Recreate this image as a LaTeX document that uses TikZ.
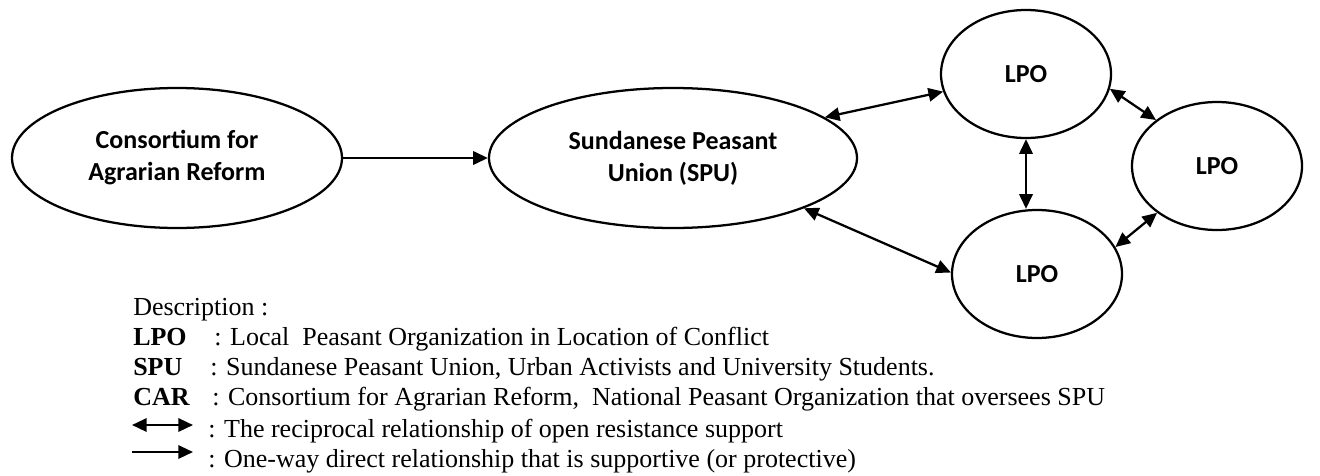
\documentclass[tikz,border=0pt]{standalone}
\usepackage{fontspec}
\setmainfont{Liberation Serif}
\newfontfamily\calibri{Carlito}
\usetikzlibrary{shapes,arrows.meta,positioning,calc}

\begin{document}
\begin{tikzpicture}[
    x=0.75pt, y=-0.75pt,
    org/.style={ellipse, draw=black, line width=1.7pt, inner sep=0pt, align=center, font=\calibri\bfseries\fontsize{19.5}{24}\selectfont},
    bigorg/.style={org, minimum width=250pt, minimum height=105pt},
    lpo/.style={org, minimum width=127.5pt, minimum height=96pt},
    link/.style={line width=1.7pt, {Triangle[length=11pt,width=10pt]}-{Triangle[length=11pt,width=10pt]}},
    oneway/.style={line width=1.7pt, -{Triangle[length=11pt,width=10pt]}},
    legend/.style={anchor=base west, inner sep=0pt, font=\fontsize{19.5}{22}\selectfont}
]
\useasboundingbox (0,0) rectangle (1320,475);

% Organizations
\node (car) [bigorg, minimum width=247.5pt] at (177,158) {Consortium for\\Agrarian Reform};
\node (spu) [bigorg, minimum width=276pt] at (673,158) {Sundanese Peasant\\Union (SPU)};
\node (lpotop) [lpo] at (1026,74) {LPO};
\node (lporight) [lpo] at (1217,166) {LPO};
\node (lpobot) [lpo] at (1037,274) {LPO};

% Connections
\draw[oneway] (car.east) -- (spu.west);
\draw[link] (spu.15) -- (lpotop.192);
\draw[link] (spu.-21) -- (lpobot.179);
\draw[link] (lpotop.-10) -- (lporight.143);
\draw[link] (lpotop.south) -- (lpotop.south |- lpobot.north);
\draw[link] (lporight.218) -- (lpobot.19);

% Description
\node (desc) [legend] at (133,315) {Description :};
\node (klpo) [legend] at (133,345) {\textbf{LPO}};
\node (tlpo) [legend] at (214,345) {: Local\ \ Peasant Organization in Location of Conflict};
\node (kspu) [legend] at (133,375) {\textbf{SPU}};
\node (tspu) [legend] at (210,375) {: Sundanese Peasant Union, Urban Activists and University Students.};
\node (kcar) [legend] at (133,405) {\textbf{CAR}};
\node (tcar) [legend] at (212,405) {: Consortium for Agrarian Reform,\ \ National Peasant Organization that oversees SPU};
\coordinate (recipA) at (132,425);
\coordinate (recipB) at (193,425);
\draw[link] (recipA) -- (recipB);
\node (trecip) [legend] at (208,437) {: The reciprocal relationship of open resistance support};
\coordinate (onewayA) at (132,452);
\coordinate (onewayB) at (193,452);
\draw[oneway] (onewayA) -- (onewayB);
\node (toneway) [legend] at (208,467) {: One-way direct relationship that is supportive (or protective)};

\end{tikzpicture}
\end{document}
